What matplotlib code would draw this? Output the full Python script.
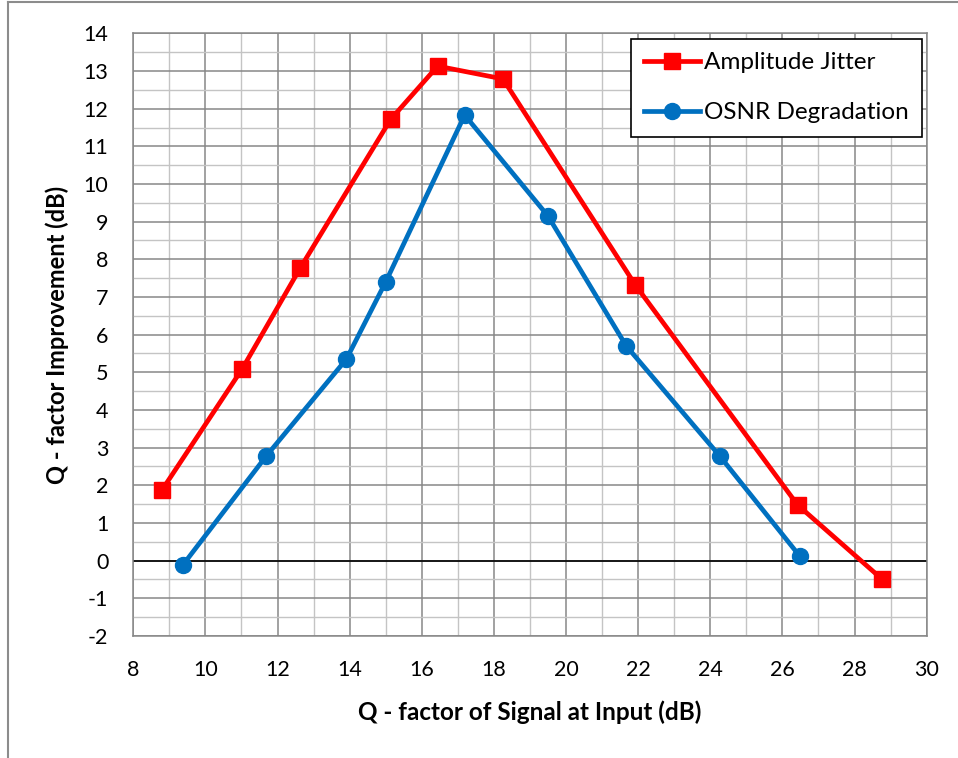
import matplotlib
matplotlib.use("Agg")
import matplotlib.pyplot as plt
from matplotlib.lines import Line2D
import numpy as np

plt.rcParams['font.family'] = ['Lato', 'DejaVu Sans']
plt.rcParams['axes.unicode_minus'] = False

# data
jitter_x = [8.80, 11.02, 12.63, 15.14, 16.44, 18.25, 21.92, 26.42, 28.76]
jitter_y = [1.88, 5.09, 7.77, 11.72, 13.13, 12.79, 7.32, 1.48, -0.49]
osnr_x = [9.38, 11.69, 13.91, 15.00, 17.19, 19.50, 21.67, 24.26, 26.48]
osnr_y = [-0.11, 2.78, 5.35, 7.40, 11.83, 9.15, 5.70, 2.78, 0.12]

fig = plt.figure(figsize=(9.58, 7.58), dpi=100)
ax = fig.add_axes([0.1391, 0.161, 0.8282, 0.795])

ax.set_xlim(8, 30)
ax.set_ylim(-2, 14)
ax.set_xticks(np.arange(8, 31, 2))
ax.set_xticks(np.arange(8, 31, 1), minor=True)
ax.set_yticks(np.arange(-2, 15, 1))
ax.set_yticks(np.arange(-2, 14.5, 0.5), minor=True)

ax.grid(which='minor', color='#c4c4c4', lw=1.0, zorder=0)
ax.grid(which='major', color='#878787', lw=1.1, zorder=0)
ax.set_axisbelow(True)
ax.axhline(0, color='black', lw=1.2, zorder=1)

for s in ax.spines.values():
    s.set_color('#878787')
    s.set_linewidth(1.1)

ax.tick_params(which='both', length=0, labelsize=15.5)
ax.tick_params(axis='x', pad=17)
ax.tick_params(axis='y', pad=18)

ax.plot(jitter_x, jitter_y, color='#ff0000', lw=3.4, marker='s', ms=11.5,
        label='Amplitude Jitter', zorder=3)
ax.plot(osnr_x, osnr_y, color='#0070c0', lw=3.4, marker='o', ms=11.5,
        label='OSNR Degradation', zorder=3)

ax.set_xlabel('Q - factor of Signal at Input (dB)', fontsize=17.5, fontweight='bold', labelpad=15)
ax.set_ylabel('Q - factor Improvement (dB)', fontsize=17, fontweight='bold', labelpad=10)

leg = ax.legend(loc='upper right', bbox_to_anchor=(0.994, 0.991), fontsize=17.5,
                fancybox=False, edgecolor='black', framealpha=1, handlelength=2.3,
                handletextpad=0.15, borderpad=0.55, labelspacing=1.2, borderaxespad=0)
leg.get_frame().set_linewidth(1.2)

# outer chart border (partial, as in the reference)
fig.add_artist(Line2D([7.5 / 958, 7.5 / 958], [0, 1 - 2 / 758], color='#8c8c8c', lw=1.5,
                      transform=fig.transFigure))
fig.add_artist(Line2D([7.5 / 958, 1], [1 - 2 / 758, 1 - 2 / 758], color='#8c8c8c', lw=1.5,
                      transform=fig.transFigure))

fig.savefig('out.png', dpi=100)
